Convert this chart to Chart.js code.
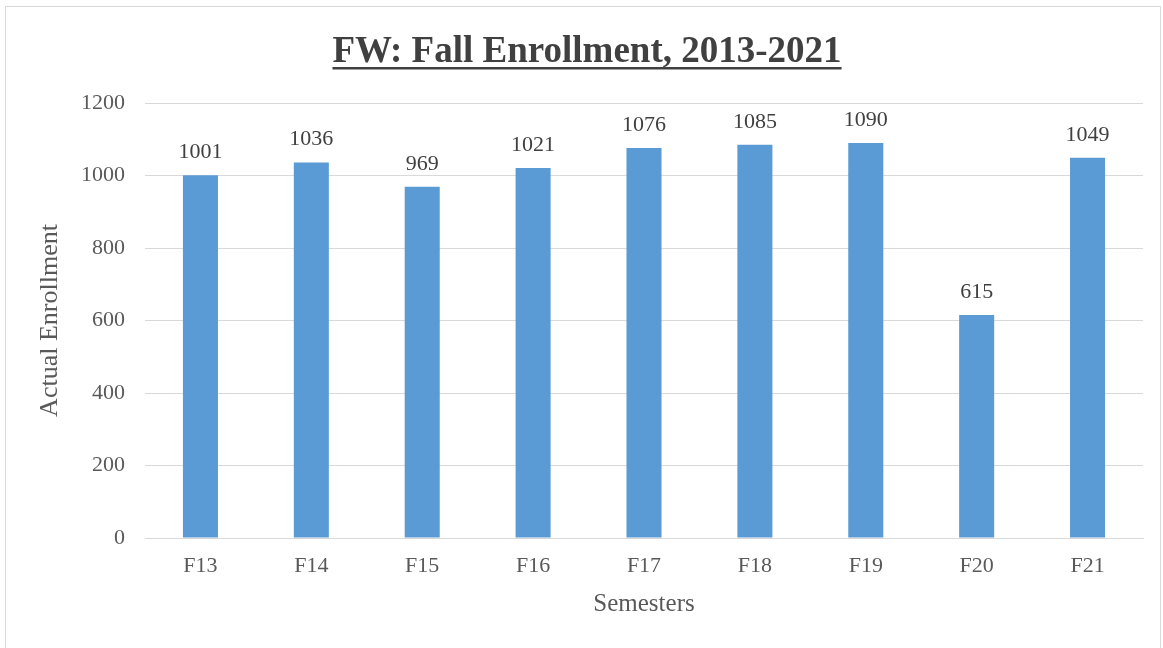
<!DOCTYPE html>
<html>
<head>
<meta charset="utf-8">
<script src="https://cdn.jsdelivr.net/npm/chart.js@4.4.0/dist/chart.umd.min.js"></script>
<style>
html,body{margin:0;padding:0;background:#fff;}
#wrap{width:1163px;height:648px;position:relative;}
</style>
</head>
<body>
<div id="wrap"><canvas id="c" width="1163" height="648"></canvas></div>
<script>
const titleText = "FW: Fall Enrollment, 2013-2021";
const categories = ["F13","F14","F15","F16","F17","F18","F19","F20","F21"];
const enrollment = [1001,1036,969,1021,1076,1085,1090,615,1049];
const yTicks = [0,200,400,600,800,1000,1200];
const xTitle = "Semesters";
const yTitle = "Actual Enrollment";

const SERIF = "'Liberation Serif','Times New Roman',serif";

const decor = {
  id: 'decor',
  beforeDraw(chart){
    const ctx = chart.ctx;
    ctx.save();
    ctx.fillStyle = '#ffffff';
    ctx.fillRect(0,0,chart.width,chart.height);
    ctx.strokeStyle = '#d9d9d9';
    ctx.lineWidth = 1;
    ctx.strokeRect(5.5,6.5,1155,680);
    ctx.restore();
  },
  afterDraw(chart){
    const ctx = chart.ctx;
    ctx.save();
    ctx.font = "bold 37px " + SERIF;
    ctx.fillStyle = '#404040';
    ctx.textAlign = 'center';
    ctx.textBaseline = 'alphabetic';
    const cx = 587, by = 62;
    ctx.fillText(titleText, cx, by);
    const w = ctx.measureText(titleText).width;
    ctx.fillRect(cx - w/2, by + 5, w, 2.5);
    ctx.font = "22px " + SERIF;
    ctx.fillStyle = '#404040';
    ctx.textAlign = 'center';
    const meta = chart.getDatasetMeta(0);
    meta.data.forEach((bar,i)=>{
      ctx.fillText(String(enrollment[i]), bar.x, bar.y - 17);
    });
    ctx.restore();
  }
};

new Chart(document.getElementById('c'), {
  type: 'bar',
  data: {
    labels: categories,
    datasets: [{
      data: enrollment,
      backgroundColor: '#5B9BD5',
      borderWidth: 0,
      categoryPercentage: 1,
      barPercentage: 0.316
    }]
  },
  options: {
    responsive: false,
    animation: false,
    devicePixelRatio: 1,
    layout: { padding: { left: 31, right: 20, top: 103, bottom: 25 } },
    plugins: { legend: { display: false }, tooltip: { enabled: false }, title: { display: false } },
    scales: {
      x: {
        offset: true,
        grid: { display: false, drawTicks: false },
        border: { display: true, color: '#d9d9d9', width: 1 },
        ticks: { font: { family: SERIF, size: 22 }, color: '#595959', padding: 15 },
        title: { display: true, text: xTitle, font: { family: SERIF, size: 25 }, color: '#595959', padding: { top: 4, bottom: 4 } },
        afterFit(s){ s.height = 85; }
      },
      y: {
        min: 0, max: 1200,
        afterBuildTicks(s){ s.ticks = yTicks.map(v=>({value:v})); },
        grid: { color: '#d9d9d9', lineWidth: 1, drawTicks: false },
        border: { display: false },
        ticks: { font: { family: SERIF, size: 22 }, color: '#595959', padding: 20, callback: v => String(v) },
        title: { display: true, text: yTitle, font: { family: SERIF, size: 26 }, color: '#595959', padding: { top: 4, bottom: 4 } },
        afterFit(s){ s.width = 114; }
      }
    }
  },
  plugins: [decor]
});
</script>
</body>
</html>
